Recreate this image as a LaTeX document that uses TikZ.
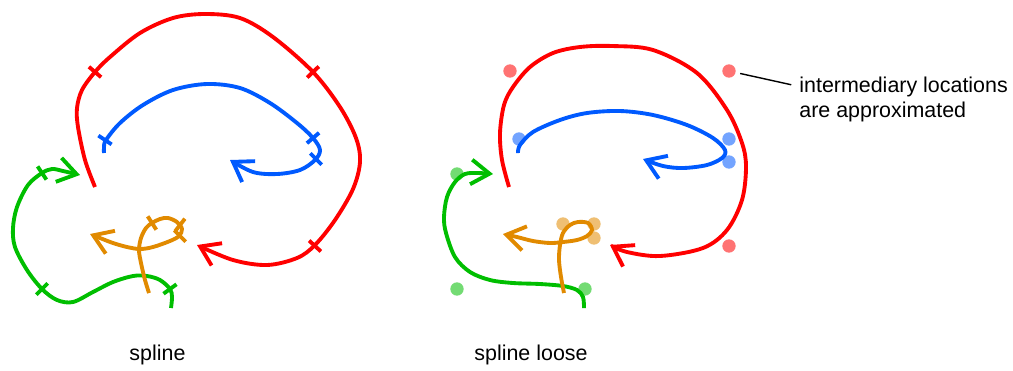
\documentclass[tikz,border=0pt]{standalone}
\usepackage{fontspec}
\setmainfont{Liberation Sans}
\usetikzlibrary{arrows.meta,calc}
\definecolor{cred}{RGB}{255,0,0}
\definecolor{cblue}{RGB}{0,90,255}
\definecolor{cgreen}{RGB}{0,190,0}
\definecolor{corange}{RGB}{225,138,0}
\begin{document}
\begin{tikzpicture}[x=0.02cm,y=-0.02cm,
  curve/.style={line width=2.2pt, line join=miter, -{Straight Barb[length=10.5pt,width=14pt]}},
  tickmark/.style={line width=2.2pt},
  dotnode/.style={circle, inner sep=0pt, minimum size=7.6pt, fill opacity=0.55, draw=none},
  lbl/.style={font=\fontsize{12.2}{14}\selectfont, inner sep=0pt}]
\useasboundingbox (0,0) rectangle (1013,370);

% ---------- left panel: spline ----------
\draw[curve, cred] plot[smooth, tension=0.55] coordinates {(95,187) (85,160) (78,127) (77,108) (82,90) (95,72) (110,57) (140,33) (173,18) (205,14) (240,18) (273,37) (313,72) (340,107) (356,138) (360,162) (353,189) (335,220) (315,245) (297,258) (267,265) (233,260) (197,245)};
\draw[curve, cblue] plot[smooth, tension=0.55] coordinates {(104,153) (104,147) (106,140) (120,123) (143,105) (173,90) (207,84) (240,88) (270,103) (297,123) (313,138) (320,150) (315,160) (300,170) (277,174) (253,172) (230,160)};
\draw[curve, cgreen] plot[smooth, tension=0.55] coordinates {(171,308) (172,297) (170,289) (160,280) (147,276) (133,276) (113,282) (93,292) (73,302) (57,300) (42,289) (27,270) (15,247) (13,228) (17,207) (28,185) (42,173) (52,169) (63,171) (80,175)};
\draw[curve, corange] plot[smooth, tension=0.55] coordinates {(149,293) (145,280) (141,263) (139,250) (141,238) (146,228) (152,223) (160,219) (168,218) (177,222) (182,229) (179,236) (170,241) (153,247) (140,249) (127,247) (113,243) (100,238) (90,234)};

% tick marks at the intermediate locations
\coordinate (rt1) at (95,72);
\coordinate (rt2) at (313,72);
\coordinate (rt3) at (315,246);
\coordinate (bt1) at (105,140);
\coordinate (bt2) at (313,138);
\coordinate (bt3) at (316,159);
\coordinate (gt1) at (170,289);
\coordinate (gt2) at (42,289);
\coordinate (gt3) at (42,173);
\coordinate (ot1) at (152,223);
\coordinate (ot2) at (180,225);
\coordinate (ot3) at (180,236);
\draw[tickmark, cred] ($(rt1)+(6.1,5.2)$) -- ($(rt1)-(6.1,5.2)$);
\draw[tickmark, cred] ($(rt2)+(5.8,-5.5)$) -- ($(rt2)-(5.8,-5.5)$);
\draw[tickmark, cred] ($(rt3)+(5.9,5.4)$) -- ($(rt3)-(5.9,5.4)$);
\draw[tickmark, cblue] ($(bt1)+(6.6,4.4)$) -- ($(bt1)-(6.6,4.4)$);
\draw[tickmark, cblue] ($(bt2)+(6.1,-5.2)$) -- ($(bt2)-(6.1,-5.2)$);
\draw[tickmark, cblue] ($(bt3)+(5.7,5.7)$) -- ($(bt3)-(5.7,5.7)$);
\draw[tickmark, cgreen] ($(gt1)+(6.5,-4.7)$) -- ($(gt1)-(6.5,-4.7)$);
\draw[tickmark, cgreen] ($(gt2)+(5.7,-5.7)$) -- ($(gt2)-(5.7,-5.7)$);
\draw[tickmark, cgreen] ($(gt3)+(4.4,6.6)$) -- ($(gt3)-(4.4,6.6)$);
\draw[tickmark, corange] ($(ot1)+(4.3,6.7)$) -- ($(ot1)-(4.3,6.7)$);
\draw[tickmark, corange] ($(ot2)+(4.9,-6.3)$) -- ($(ot2)-(4.9,-6.3)$);
\draw[tickmark, corange] ($(ot3)+(5.7,5.7)$) -- ($(ot3)-(5.7,5.7)$);

% ---------- right panel: spline loose ----------
\node[dotnode, fill=cred] (rd1) at (510,71) {};
\node[dotnode, fill=cred] (rd2) at (729,71) {};
\node[dotnode, fill=cred] (rd3) at (729,246) {};
\node[dotnode, fill=cblue] (bd1) at (519,139) {};
\node[dotnode, fill=cblue] (bd2) at (729,139) {};
\node[dotnode, fill=cblue] (bd3) at (729,162) {};
\node[dotnode, fill=cgreen] (gd1) at (457,174) {};
\node[dotnode, fill=cgreen] (gd2) at (457,289) {};
\node[dotnode, fill=cgreen] (gd3) at (585,289) {};
\node[dotnode, fill=corange] (od1) at (563,224) {};
\node[dotnode, fill=corange] (od2) at (594,224) {};
\node[dotnode, fill=corange] (od3) at (594,238) {};

\draw[curve, cred] plot[smooth, tension=0.55] coordinates {(509,187) (502,160) (500,133) (504,105) (513,87) (530,67) (553,53) (580,47) (612,46) (653,50) (697,73) (727,110) (742,143) (746,167) (742,200) (727,230) (703,248) (660,256) (627,252) (610,245)};
\draw[curve, cblue] plot[smooth, tension=0.55] coordinates {(518,153) (520,145) (533,132) (560,120) (587,113) (620,111) (653,115) (687,125) (713,138) (725,150) (722,158) (707,165) (683,168) (663,166) (643,159)};
\draw[curve, cgreen] plot[smooth, tension=0.55] coordinates {(584,308) (583,297) (577,290) (563,286) (540,284) (513,283) (490,280) (470,272) (455,257) (446,233) (444,217) (447,197) (455,182) (465,174) (478,173) (493,174)};
\draw[curve, corange] plot[smooth, tension=0.55] coordinates {(564,293) (561,277) (559,260) (560,245) (563,233) (570,225) (578,222) (588,223) (592,230) (587,236) (577,240) (563,242) (550,243) (533,241) (517,237) (503,234)};

% ---------- annotation ----------
\node[lbl, anchor=base west] (note1) at (799,92) {intermediary locations};
\node[lbl, anchor=base west] (note2) at (799,117) {are approximated};
\draw[line width=0.8pt, shorten <=2.5pt, shorten >=4.5pt] (rd2) -- (note1.west);

% ---------- captions ----------
\node[lbl, anchor=base] (cap1) at (157.5,360) {spline};
\node[lbl, anchor=base] (cap2) at (531,360) {spline loose};
\end{tikzpicture}
\end{document}
